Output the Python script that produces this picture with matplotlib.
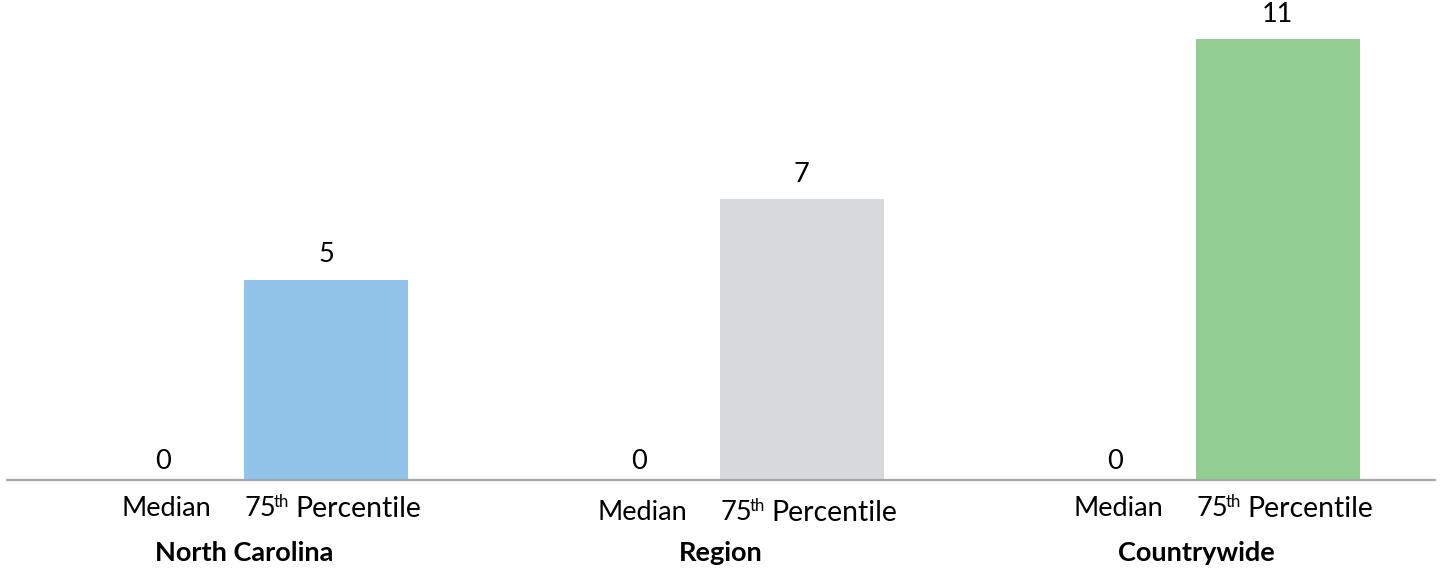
import matplotlib
matplotlib.use("Agg")
import matplotlib.pyplot as plt
import matplotlib.transforms as mtransforms
import numpy as np

plt.rcParams["font.family"] = ["Lato", "DejaVu Sans"]

groups = ["North Carolina", "Region", "Countrywide"]
series = ["Median", "75", "th", "Percentile"]
median_vals = [0, 0, 0]
p75_vals = [5, 7, 11]
bar_colors = ["#92C4E9", "#D8D9DB", "#92CD92"]

fig = plt.figure(figsize=(14.4, 5.71), dpi=100)
W, H = 1440, 571
ax = fig.add_axes([6.5 / W, 91 / H, 1428 / W, 480 / H])

x = np.arange(len(groups))
offset = 0.171
width = 0.345
fs = 19.5

ax.bar(x + offset, p75_vals, width=width, color=bar_colors)
ax.bar(x - offset, median_vals, width=width, color=bar_colors)

for xi, v in zip(x, median_vals):
    ax.annotate(f"{v}", (xi - offset, v), xytext=(0, 13), textcoords="offset points",
                ha="center", va="center", fontsize=fs, color="#000000")
for xi, v in zip(x, p75_vals):
    ax.annotate(f"{v}", (xi + offset, v), xytext=(0, 18), textcoords="offset points",
                ha="center", va="center", fontsize=fs, color="#000000")

ax.set_xlim(-0.5, 2.5)
ax.set_ylim(0, 480 / 40.09)

for s in ["top", "left", "right"]:
    ax.spines[s].set_visible(False)
ax.spines["bottom"].set_color("#A6A6A6")
ax.spines["bottom"].set_linewidth(1.6)
ax.set_yticks([])
ax.set_xticks([])

trans = mtransforms.blended_transform_factory(ax.transData, ax.transAxes)
row_y = [-29 / 480, -33 / 480, -29 / 480]
for xi, g, ry in zip(x, groups, row_y):
    ax.text(xi - offset + 0.006, ry, series[0], transform=trans,
            ha="center", va="center", fontsize=fs)
    # "75" + raised "th" + "Percentile", laid out left to right
    x0 = xi + offset - 0.172
    ax.text(x0, ry, series[1], transform=trans,
            ha="left", va="center", fontsize=fs)
    off1 = mtransforms.offset_copy(trans, fig=fig, x=21.5, y=5, units="points")
    ax.text(x0, ry, series[2], transform=off1,
            ha="left", va="center", fontsize=fs * 0.62)
    off2 = mtransforms.offset_copy(trans, fig=fig, x=37, y=0, units="points")
    ax.text(x0, ry, series[3], transform=off2,
            ha="left", va="center", fontsize=fs * 1.05)
    ax.text(xi, -73 / 480, g, transform=trans, ha="center", va="center",
            fontsize=fs, fontweight="bold")

fig.savefig("out.png", dpi=100)
